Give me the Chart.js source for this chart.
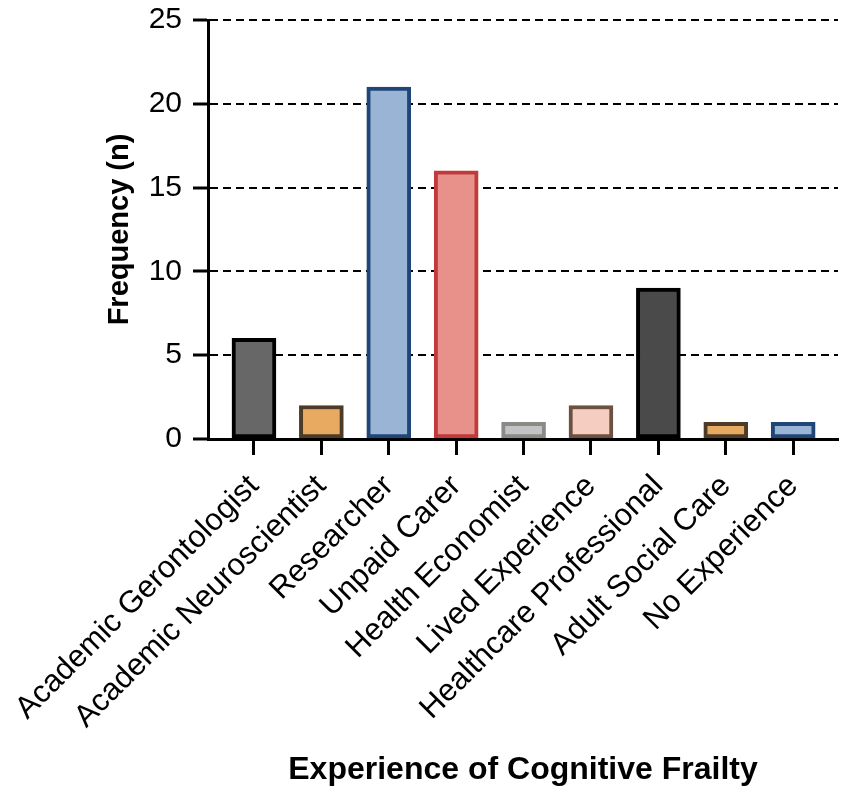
<!DOCTYPE html>
<html>
<head>
<meta charset="utf-8">
<script src="https://cdn.jsdelivr.net/npm/chart.js@4"></script>
<style>
  html, body { margin: 0; padding: 0; background: #fff; }
  #wrap { width: 851px; height: 801px; }
</style>
</head>
<body>
<div id="wrap"><canvas id="graphCanvas"></canvas></div>
<script>
const categories = [
    'Academic Gerontologist', 'Academic Neuroscientist', 'Researcher', 'Unpaid Carer',
    'Health Economist', 'Lived Experience', 'Healthcare Professional', 'Adult Social Care', 'No Experience'
];
const frequency = [6, 2, 21, 16, 1, 2, 9, 1, 1];
const yTicks = [0, 5, 10, 15, 20, 25];

const fillColors = ['#676767', '#E8A960', '#9AB4D6', '#E8918B', '#C1C3C5', '#F5CDC1', '#4A4A4A', '#E8A960', '#9AB4D6'];
const edgeColors = ['#000000', '#4B3B27', '#1F4677', '#C03A3B', '#8B8A86', '#6C5141', '#000000', '#4B3B27', '#1F4677'];

const font = "'Liberation Sans', Arial, Helvetica, sans-serif";
Chart.defaults.color = '#000';
Chart.defaults.font.family = font;

const ctx = document.getElementById('graphCanvas').getContext('2d');
new Chart(ctx, {
    type: 'bar',
    data: {
        datasets: [{
            data: frequency.map((v, i) => ({ x: i, y: v })),
            backgroundColor: fillColors,
            borderColor: edgeColors,
            borderWidth: 4,
            borderSkipped: false,
            barThickness: 44
        }]
    },
    options: {
        responsive: true,
        maintainAspectRatio: false,
        animation: false,
        layout: { padding: { top: 0, right: 13, bottom: 0, left: 0 } },
        plugins: { legend: { display: false }, tooltip: { enabled: false } },
        scales: {
            x: {
                type: 'linear',
                offset: false,
                min: -0.682,
                max: 8.665,
                afterBuildTicks: axis => { axis.ticks = categories.map((c, i) => ({ value: i })); },
                afterFit: axis => { axis.height = 362; axis.paddingLeft = 0; axis.paddingRight = 0; },
                ticks: {
                    callback: value => categories[value],
                    minRotation: 45,
                    maxRotation: 45,
                    padding: 13,
                    font: { size: 31 }
                },
                grid: {
                    offset: false,
                    drawOnChartArea: false,
                    tickLength: 16,
                    tickWidth: 3,
                    tickColor: '#000'
                },
                border: { color: '#000', width: 3 },
                title: {
                    display: true,
                    text: 'Experience of Cognitive Frailty',
                    font: { size: 32, weight: 'bold' },
                    padding: { top: 0, bottom: 12 }
                }
            },
            y: {
                min: 0,
                max: 25,
                afterBuildTicks: axis => { axis.ticks = yTicks.map(v => ({ value: v })); },
                afterFit: axis => { axis.width = 208; },
                ticks: { padding: 11, font: { size: 30, lineHeight: 0.6 } },
                grid: {
                    color: c => c.tick && c.tick.value === 0 ? 'rgba(0,0,0,0)' : '#000',
                    lineWidth: 2,
                    tickLength: 15,
                    tickWidth: 3,
                    tickColor: '#000'
                },
                border: { color: '#000', width: 3, dash: [8, 5] },
                title: {
                    display: true,
                    text: 'Frequency (n)',
                    font: { size: 29, weight: 'bold' },
                    padding: { top: 103, bottom: 0 }
                }
            }
        }
    }
});
</script>
</body>
</html>
